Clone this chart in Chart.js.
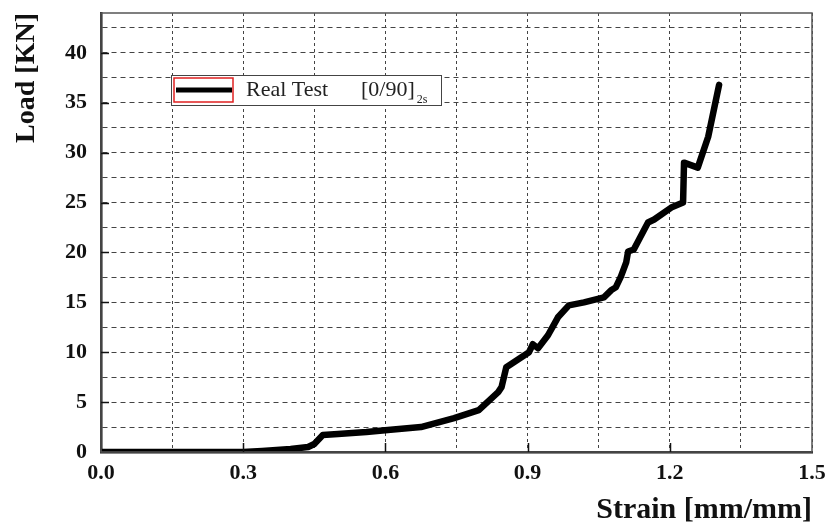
<!DOCTYPE html>
<html>
<head>
<meta charset="utf-8">
<script src="https://cdn.jsdelivr.net/npm/chart.js@4"></script>
<style>
  body { margin: 0; background: #fff; }
  #wrap { width: 831px; height: 532px; position: relative; }
</style>
</head>
<body>
<div id="wrap"><canvas id="loadChart"></canvas></div>
<script>
// strain [mm/mm] and load [KN]
var strain = [0, 0.30, 0.34, 0.40, 0.437, 0.45, 0.468, 0.50, 0.56, 0.605, 0.675, 0.745, 0.797,
    0.838, 0.845, 0.855, 0.871, 0.903, 0.911, 0.922, 0.943, 0.964, 0.987, 1.019, 1.061, 1.076,
    1.086, 1.097, 1.108, 1.112, 1.124, 1.154, 1.167, 1.203, 1.228, 1.230, 1.259, 1.281, 1.304];
var load = [0, 0, 0.1, 0.3, 0.5, 0.8, 1.7, 1.8, 2.0, 2.2, 2.5, 3.4, 4.2,
    6.0, 6.5, 8.5, 9.0, 10.0, 10.8, 10.4, 11.7, 13.5, 14.7, 15.0, 15.5, 16.2,
    16.5, 17.6, 19.0, 20.1, 20.3, 23.0, 23.3, 24.5, 25.0, 29.0, 28.5, 31.6, 36.8];

var xRange = [0, 1.5];
var yRange = [0, 44];
var xStep = 0.15;   // dotted grid, labels every 0.3
var yStep = 2.5;    // dashed grid, labels every 5

var seriesLabel = 'Real Test';
var seriesLayup = '[0/90]';
var seriesSub = '2s';

var points = strain.map(function (s, i) { return { x: s, y: load[i] }; });

Chart.defaults.font.family = 'Liberation Serif';
Chart.defaults.color = '#111';

// frame, inner tick marks and the boxed legend
var decor = {
    id: 'decor',
    afterDatasetsDraw: function (chart) {
        var ctx = chart.ctx;
        var a = chart.chartArea;
        var xs = chart.scales.x, ys = chart.scales.y;
        ctx.save();

        ctx.strokeStyle = '#555';
        ctx.lineWidth = 1.5;
        ctx.strokeRect(a.left, a.top, a.right - a.left, a.bottom - a.top);

        // short solid ticks inside the axes
        ctx.strokeStyle = '#111';
        ctx.lineWidth = 1.5;
        ctx.beginPath();
        for (var v = 5; v <= 40; v += 5) {
            var py = Math.round(ys.getPixelForValue(v)) + 0.5;
            ctx.moveTo(a.left, py);
            ctx.lineTo(a.left + 8, py);
        }
        for (var k = 1; k < 5; k++) {
            var px = Math.round(xs.getPixelForValue(k * 0.3)) + 0.5;
            ctx.moveTo(px, a.bottom);
            ctx.lineTo(px, a.bottom - 9);
        }
        ctx.stroke();

        // legend box
        var lx = a.left + 70, ly = a.top + 62;
        ctx.fillStyle = '#fff';
        ctx.fillRect(lx, ly, 270, 30);
        ctx.strokeStyle = '#444';
        ctx.lineWidth = 1;
        ctx.strokeRect(lx + 0.5, ly + 0.5, 270, 30);
        ctx.strokeStyle = '#e02020';
        ctx.lineWidth = 1.5;
        ctx.strokeRect(lx + 3, ly + 3, 59, 24);
        ctx.strokeStyle = '#000';
        ctx.lineWidth = 5;
        ctx.beginPath();
        ctx.moveTo(lx + 5, ly + 15);
        ctx.lineTo(lx + 61, ly + 15);
        ctx.stroke();

        ctx.fillStyle = '#222';
        ctx.textBaseline = 'alphabetic';
        ctx.font = '22px "Liberation Serif"';
        ctx.fillText(seriesLabel, lx + 75, ly + 21);
        ctx.fillText(seriesLayup, lx + 190, ly + 21);
        var w = ctx.measureText(seriesLayup).width;
        ctx.font = '12px "Liberation Serif"';
        ctx.fillText(seriesSub, lx + 192 + w, ly + 28);
        ctx.restore();
    }
};

var ctx = document.getElementById('loadChart').getContext('2d');
var myChart = new Chart(ctx, {
    type: 'line',
    data: {
        datasets: [{
            label: seriesLabel,
            data: points,
            borderColor: '#000',
            borderWidth: 6.5,
            borderJoinStyle: 'round',
            borderCapStyle: 'round',
            pointRadius: 0,
            tension: 0,
            fill: false
        }]
    },
    options: {
        responsive: true,
        maintainAspectRatio: false,
        animation: false,
        layout: { padding: { left: 0, top: 13, right: 19, bottom: 0 } },
        plugins: {
            legend: { display: false },
            tooltip: { enabled: false }
        },
        scales: {
            x: {
                type: 'linear',
                min: xRange[0],
                max: xRange[1],
                afterFit: function (scale) {
                    scale.height = 80;
                    scale.paddingLeft = 0;
                    scale.paddingRight = 0;
                },
                grid: { color: '#444', lineWidth: 1, drawTicks: false },
                border: { display: true, color: '#111', width: 2.5, dash: [3, 3] },
                ticks: {
                    stepSize: xStep,
                    includeBounds: false,
                    autoSkip: false,
                    maxRotation: 0,
                    padding: 8,
                    font: { size: 22, weight: 'bold' },
                    callback: function (v) {
                        return Math.round(v * 100) % 30 === 0 ? v.toFixed(1) : '';
                    }
                },
                title: {
                    display: true,
                    text: 'Strain [mm/mm]',
                    align: 'end',
                    font: { size: 30, weight: 'bold' },
                    padding: { top: 0, bottom: 4 }
                }
            },
            y: {
                min: yRange[0],
                max: yRange[1],
                afterFit: function (scale) {
                    scale.width = 101;
                    scale.paddingTop = 0;
                    scale.paddingBottom = 0;
                },
                grid: { color: '#444', lineWidth: 1, drawTicks: false },
                border: { display: true, color: '#111', width: 2.5, dash: [5, 4] },
                ticks: {
                    stepSize: yStep,
                    includeBounds: false,
                    autoSkip: false,
                    padding: 14,
                    font: { size: 22, weight: 'bold' },
                    callback: function (v) {
                        return (v % 5 === 0 && v <= 40) ? v : '';
                    }
                },
                title: {
                    display: true,
                    text: 'Load [KN]',
                    align: 'end',
                    font: { size: 28, weight: 'bold' },
                    padding: { top: 10, bottom: 0 }
                }
            }
        }
    },
    plugins: [decor]
});
</script>
</body>
</html>
